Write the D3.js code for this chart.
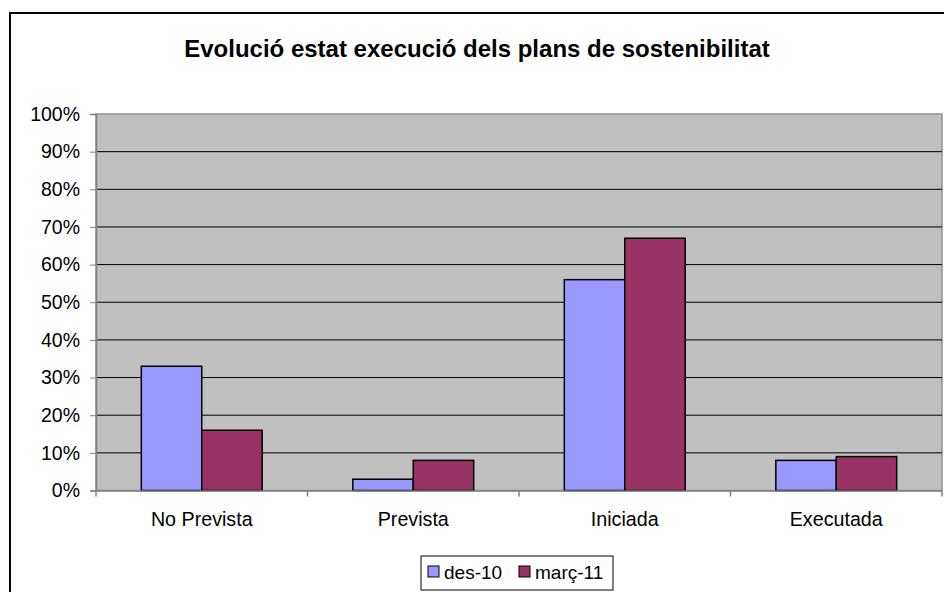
<!DOCTYPE html>
<html><head><meta charset="utf-8">
<script src="https://cdn.jsdelivr.net/npm/d3@7"></script>
<style>body{margin:0;background:#fff}svg{display:block}</style>
</head><body>
<script>
const categories = ["No Prevista", "Prevista", "Iniciada", "Executada"];
const seriesNames = ["des-10", "març-11"];
const des10 = [0.33, 0.03, 0.56, 0.08];
const marc11 = [0.16, 0.08, 0.67, 0.09];
const yTicks = [0, 0.1, 0.2, 0.3, 0.4, 0.5, 0.6, 0.7, 0.8, 0.9, 1.0];
const colors = ["#9999FF", "#993366"];
const title = "Evolució estat execució dels plans de sostenibilitat";

const W = 944, H = 592;
const svg = d3.select("body").append("svg").attr("width", W).attr("height", H);
const font = "Liberation Sans, Arial, sans-serif";

// outer frame
svg.append("rect").attr("x", 10).attr("y", 13).attr("width", 960).attr("height", 620)
  .attr("fill", "#fff").attr("stroke", "#000").attr("stroke-width", 2);

svg.append("text").attr("x", 477).attr("y", 57).attr("text-anchor", "middle")
  .attr("font-family", font).attr("font-weight", "bold").attr("font-size", 24).text(title);

const L = 96, R = 942, T = 114, B = 490.5;
const x0 = d3.scaleBand().domain(categories).range([L, R]).paddingInner(0).paddingOuter(0);
const x1 = d3.scaleBand().domain(seriesNames).range([0, x0.bandwidth()]).paddingInner(0).paddingOuter(0.75);
const y = d3.scaleLinear().domain([0, 1]).range([B, T]);

svg.append("rect").attr("x", L).attr("y", T).attr("width", R - L).attr("height", B - T)
  .attr("fill", "#C0C0C0").attr("stroke", "#909090").attr("stroke-width", 1.5);

// gridlines
svg.append("g").selectAll("line").data(yTicks.filter(d => d > 0 && d < 1)).join("line")
  .attr("x1", L).attr("x2", R).attr("y1", d => y(d)).attr("y2", d => y(d))
  .attr("stroke", "#000").attr("stroke-width", 1);

// bars
const data = [des10, marc11];
const g = svg.append("g");
categories.forEach((c, i) => {
  seriesNames.forEach((s, j) => {
    g.append("rect").attr("x", x0(c) + x1(s)).attr("y", y(data[j][i]))
      .attr("width", x1.bandwidth()).attr("height", B - y(data[j][i]))
      .attr("fill", colors[j]).attr("stroke", "#000").attr("stroke-width", 1.5);
  });
});

// y axis
const yAxis = d3.axisLeft(y).tickValues(yTicks).tickFormat(d3.format(".0%")).tickSize(6).tickPadding(10);
const ya = svg.append("g").attr("transform", `translate(${L},0)`).call(yAxis);
ya.select(".domain").attr("stroke", "#808080").attr("stroke-width", 1.5);
ya.selectAll(".tick line").attr("stroke", "#808080");
ya.selectAll("text").attr("font-family", font).attr("font-size", 19.5).attr("fill", "#000");

// x axis
const xAxis = d3.axisBottom(x0).tickSize(0).tickPadding(22);
const xa = svg.append("g").attr("transform", `translate(0,${B})`).call(xAxis);
xa.select(".domain").attr("stroke", "#808080").attr("stroke-width", 1.5);
xa.selectAll("text").attr("font-family", font).attr("font-size", 19.7).attr("fill", "#000");
const tickPos = categories.map(c => x0(c)).concat([R]);
svg.append("g").selectAll("line").data(tickPos).join("line")
  .attr("x1", d => d).attr("x2", d => d).attr("y1", B).attr("y2", B + 6)
  .attr("stroke", "#808080").attr("stroke-width", 1.5);

// legend
const lg = svg.append("g");
lg.append("rect").attr("x", 421).attr("y", 556).attr("width", 192).attr("height", 34)
  .attr("fill", "#fff").attr("stroke", "#000").attr("stroke-width", 1);
const items = [{n: seriesNames[0], c: colors[0], x: 428}, {n: seriesNames[1], c: colors[1], x: 519}];
items.forEach(it => {
  lg.append("rect").attr("x", it.x).attr("y", 566).attr("width", 11).attr("height", 11)
    .attr("fill", it.c).attr("stroke", "#000").attr("stroke-width", 1);
  lg.append("text").attr("x", it.x + 16).attr("y", 579).attr("font-family", font)
    .attr("font-size", 19).text(it.n);
});
</script>
</body></html>
